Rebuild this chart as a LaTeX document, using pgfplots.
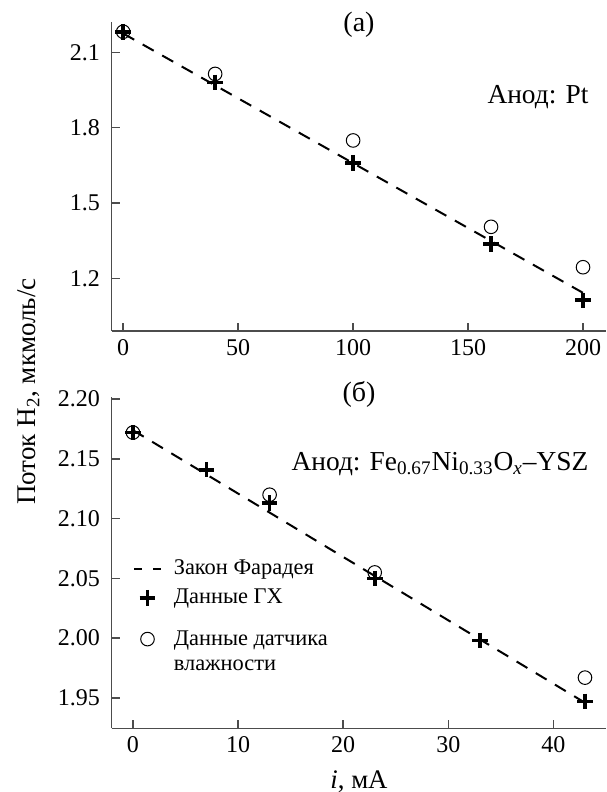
\documentclass[border=0pt]{standalone}
\usepackage{fontspec}
\setmainfont{Liberation Serif}
\usepackage{pgfplots}
\pgfplotsset{compat=1.18}

\pgfplotsset{
  panel/.style={
    scale only axis, width=247.15pt,
    axis lines*=left,
    axis line style={-, black!70, line width=0.7pt},
    tick align=inside, major tick length=4.2pt,
    tick style={black!70, line width=0.7pt},
    tick label style={font=\fontsize{12}{14}\selectfont},
    /pgf/number format/assume math mode=true,
    yticklabel style={xshift=-2.35pt},
    xticklabel style={yshift=-0.5pt},
    clip=false,
  },
  gx/.style={only marks, mark=+, mark size=3.9pt, line width=1.9pt, black,
    legend image code/.code={\draw[##1] plot coordinates {(6.75pt,3pt)};}},
  hum/.style={only marks, mark=o, mark size=3.4pt, line width=0.5pt, black,
    legend image code/.code={\draw[##1] plot coordinates {(6.75pt,3pt)};}},
  far/.style={black, line width=1pt, dash pattern=on 6.3pt off 4.9pt, no marks,
    legend image code/.code={\draw[##1, dash pattern=on 4pt off 5.5pt] (0pt,3pt) -- (13.5pt,3pt);}},
}

\begin{document}
\begin{tikzpicture}
\useasboundingbox (0pt,0pt) rectangle (303pt,-396pt);

% (a) anode Pt
\begin{axis}[panel,
  at={(55.85pt,-165.5pt)}, anchor=south west, height=154.65pt,
  xmin=-5, xmax=210, ymin=0.99, ymax=2.222,
  xtick={0,50,100,150,200},
  ytick={1.2,1.5,1.8,2.1},
]
\addplot[far] coordinates {(0,2.175) (200,1.142)};
\addplot[hum] coordinates {(0,2.182) (40,2.014) (100,1.749) (160,1.405) (200,1.244)};
\addplot[gx] coordinates {(0,2.182) (40,1.980) (100,1.660) (160,1.336) (200,1.112)};
\end{axis}

% (b) anode Fe-Ni-O / YSZ
\begin{axis}[panel,
  at={(55.85pt,-364.15pt)}, anchor=south west, height=165.8pt,
  xmin=-2.02, xmax=45, ymin=1.9246, ymax=2.202,
  xtick={0,10,20,30,40},
  ytick={1.95,2.00,2.05,2.10,2.15,2.20},
  yticklabel style={/pgf/number format/.cd, fixed, fixed zerofill, precision=2},
  legend style={at={(0.0431,0.5151)}, anchor=north west, draw=none, fill=none,
    inner sep=0pt, outer sep=0pt, row sep=4.15pt, column sep=5.9pt,
    font=\fontsize{11.2}{12.5}\selectfont, nodes={inner sep=0pt},
    cells={anchor=base west}},
]
\addplot[far] coordinates {(0,2.174) (43,1.946)};
\addlegendentry{\strut Закон Фарадея}
\addplot[gx] coordinates {(0,2.172) (7,2.141) (13,2.113) (23,2.050) (33,1.998) (43,1.947)};
\addlegendentry{\strut Данные ГХ}
\addplot[hum] coordinates {(0,2.172) (13,2.120) (23,2.055) (43,1.967)};
\addlegendentry{\begin{tabular}[t]{@{}l@{}}\rule{0pt}{15pt}Данные датчика\\влажности\end{tabular}}
\end{axis}

\node[font=\fontsize{14}{16}\selectfont] at (179.5pt,-12.5pt) {(a)};
\node[font=\fontsize{14}{16}\selectfont] at (179.5pt,-197pt) {(б)};
\node[font=\fontsize{13.7}{16}\selectfont, anchor=base east, inner sep=0pt] at (294.4pt,-52pt) {Анод: Pt};
\node[font=\fontsize{13.7}{16}\selectfont, anchor=base east, inner sep=0pt] at (294.4pt,-235pt)
  {Анод: Fe\textsubscript{0.67}Ni\textsubscript{0.33}O\textsubscript{\textit{x}}–YSZ};
\node[font=\fontsize{13.5}{16}\selectfont, rotate=90, anchor=base, inner sep=0pt] at (17.5pt,-195.8pt)
  {Поток H\textsubscript{2}, мкмоль/с};
\node[font=\fontsize{13.4}{16}\selectfont, anchor=base, inner sep=0pt] at (179.5pt,-394.2pt)
  {\textit{i}, мА};
\end{tikzpicture}
\end{document}
